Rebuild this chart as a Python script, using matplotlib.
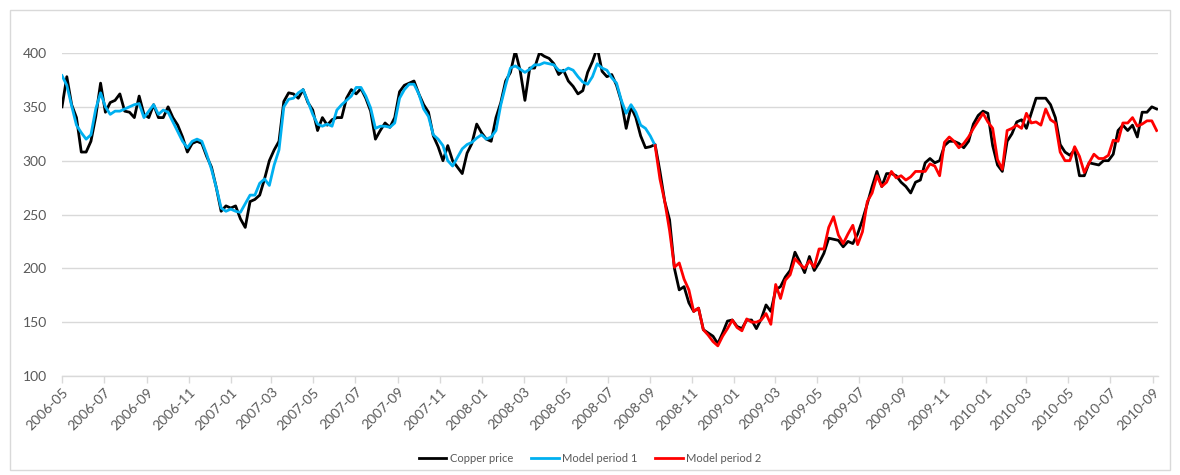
import matplotlib
matplotlib.use("Agg")
import matplotlib.pyplot as plt
import matplotlib.dates as mdates
import pandas as pd
from matplotlib.patches import Rectangle

plt.rcParams['font.family'] = ['Lato', 'DejaVu Sans']

# weekly observations starting 2006-05-01
start_date = "2006-05-01"

copper_price = [
    350, 378, 352, 340, 308, 308, 318, 341, 372, 345,
    354, 356, 362, 346, 345, 340, 360, 343, 340, 352,
    340, 340, 350, 340, 333, 322, 308, 316, 318, 316,
    304, 294, 275, 253, 258, 256, 258, 246, 238, 262,
    264, 268, 283, 300, 310, 318, 355, 363, 362, 358,
    366, 354, 347, 328, 340, 333, 338, 340, 340, 358,
    366, 362, 367, 358, 346, 320, 328, 335, 331, 340,
    364, 370, 372, 374, 362, 352, 345, 323, 313, 300,
    314, 300, 294, 288, 307, 316, 334, 326, 320, 318,
    340, 354, 374, 382, 402, 384, 356, 386, 386, 400,
    397, 395, 390, 380, 384, 374, 369, 362, 365, 382,
    392, 405, 383, 378, 380, 370, 355, 330, 350, 340,
    323, 312, 313, 315, 290, 262, 245, 200, 180, 183,
    168, 160, 163, 143, 140, 137, 130, 140, 151, 152,
    146, 144, 152, 152, 144, 153, 166, 160, 180, 183,
    192, 198, 215, 206, 196, 211, 198, 205, 214, 228,
    227, 226, 220, 225, 223, 232, 245, 260, 276, 290,
    276, 288, 288, 286, 280, 276, 270, 280, 282, 298,
    302, 298, 300, 314, 318, 318, 316, 312, 318, 334,
    342, 346, 344, 314, 296, 290, 318, 325, 336, 338,
    330, 344, 358, 358, 358, 352, 340, 315, 308, 305,
    310, 286, 286, 298, 297, 296, 300, 300, 306, 328,
    333, 328, 333, 322, 345, 345, 350, 348,
]

# model period 1: weeks 0..123
model_period_1 = [
    379, 370, 351, 333, 326, 320, 324, 348, 363, 350,
    343, 346, 346, 348, 350, 352, 353, 340, 346, 352,
    343, 347, 345, 336, 327, 318, 312, 318, 320, 318,
    306, 292, 275, 256, 253, 255, 253, 252, 260, 268,
    268, 279, 283, 277, 296, 310, 350, 357, 358, 363,
    366, 355, 343, 334, 332, 334, 332, 347, 352, 356,
    360, 368, 368, 360, 349, 330, 332, 332, 331, 335,
    358, 366, 371, 371, 362, 348, 341, 324, 320, 314,
    300, 295, 303, 311, 315, 317, 321, 324, 320, 322,
    328, 352, 370, 386, 388, 385, 382, 385, 389, 389,
    391, 390, 389, 384, 383, 386, 384, 378, 373, 371,
    378, 390, 386, 384, 377, 372, 356, 344, 352, 345,
    333, 330, 323, 314,
]

# model period 2: weeks 123..227
model_period_2 = [
    314, 283, 262, 235, 201, 205, 190, 180, 160, 163,
    143, 138, 132, 128, 137, 144, 152, 145, 142, 153,
    150, 150, 152, 158, 148, 185, 172, 189, 194, 209,
    204, 200, 207, 201, 218, 218, 238, 248, 231, 223,
    232, 240, 222, 234, 262, 270, 286, 276, 280, 290,
    284, 286, 282, 285, 290, 290, 290, 297, 295, 286,
    317, 322, 318, 312, 316, 322, 330, 337, 344, 336,
    330, 301, 292, 328, 330, 333, 330, 344, 335, 336,
    333, 348, 338, 335, 308, 300, 300, 313, 304, 289,
    298, 306, 302, 302, 305, 319, 318, 335, 335, 340,
    332, 334, 337, 337, 328,
]

series_labels = ["Copper price", "Model period 1", "Model period 2"]
y_ticks = [100, 150, 200, 250, 300, 350, 400]

dates = pd.date_range(start_date, periods=len(copper_price), freq="7D")
split = len(model_period_1) - 1
dates_m1 = dates[:len(model_period_1)]
dates_m2 = dates[split:split + len(model_period_2)]

W, H = 1180, 475
fig = plt.figure(figsize=(W / 100, H / 100), dpi=100)
ax = fig.add_axes([62 / W, 1 - 376 / H, (1158 - 62) / W, (376 - 53) / H])

grid_c = "#d9d9d9"
text_c = "#595959"

ax.plot(dates, copper_price, color="black", lw=2.0, label=series_labels[0], zorder=3)
ax.plot(dates_m1, model_period_1, color="#00B0F0", lw=2.0, label=series_labels[1], zorder=4)
ax.plot(dates_m2, model_period_2, color="#FF0000", lw=2.0, label=series_labels[2], zorder=5)

ax.set_ylim(100, 400)
ax.set_yticks(y_ticks)
ax.set_xlim(pd.Timestamp("2006-05-01"), pd.Timestamp("2010-09-08"))
ax.xaxis.set_major_locator(mdates.MonthLocator(bymonth=[1, 3, 5, 7, 9, 11]))
ax.xaxis.set_major_formatter(mdates.DateFormatter("%Y-%m"))

ax.grid(axis="y", color=grid_c, lw=1.0, zorder=0)
for s in ["top", "right", "left"]:
    ax.spines[s].set_visible(False)
ax.spines["bottom"].set_color(grid_c)
ax.spines["bottom"].set_linewidth(1.0)

ax.tick_params(axis="y", length=0, pad=11, labelsize=10, labelcolor=text_c)
ax.tick_params(axis="x", length=5, color=grid_c, width=1.0, pad=2, labelsize=10, labelcolor=text_c)
for lbl in ax.get_xticklabels():
    lbl.set_rotation(45)
    lbl.set_ha("right")
    lbl.set_va("top")
    lbl.set_rotation_mode("anchor")

fig.legend(loc="center", bbox_to_anchor=(0.5, 1 - 458 / H), ncol=3, frameon=False,
           fontsize=8, labelcolor=text_c, handlelength=2.5, handletextpad=0.3,
           columnspacing=1.6)

fig.patches.append(Rectangle((10 / W, 5 / H), 1160 / W, 460 / H, transform=fig.transFigure,
                             fill=False, edgecolor=grid_c, lw=1.0))

fig.savefig("out.png", dpi=100)
